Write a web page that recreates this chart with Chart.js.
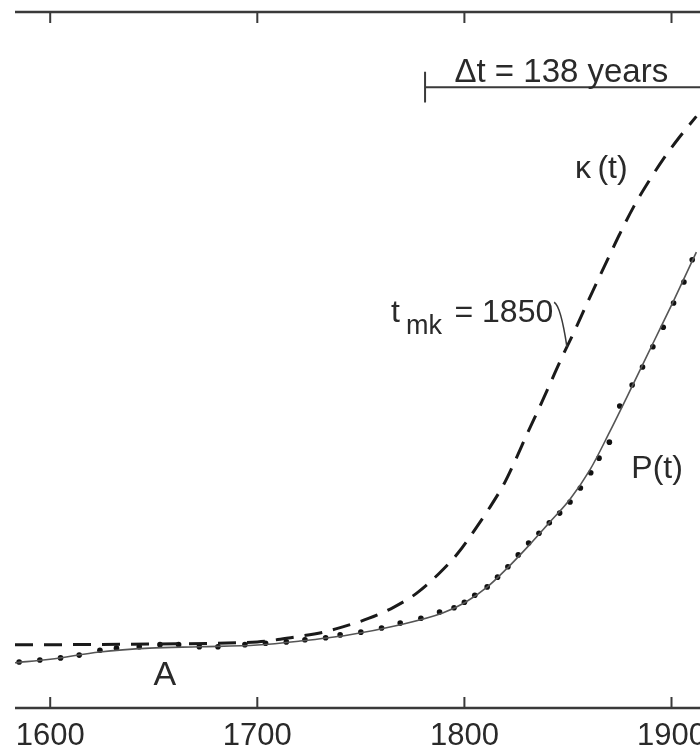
<!DOCTYPE html>
<html>
<head>
<meta charset="utf-8">
<script src="https://cdn.jsdelivr.net/npm/chart.js@4"></script>
<style>
  html, body { margin: 0; padding: 0; background: #fff; overflow: hidden; }
  #wrap { width: 760px; height: 751px; }
</style>
</head>
<body>
<div id="wrap"><canvas id="chart" width="760" height="751"></canvas></div>
<script>
// years on the x axis
const xTicks = [1600, 1700, 1800, 1900];

// kappa(t), dashed
const kappaYears = [1583, 1600, 1650, 1700, 1718, 1732, 1744, 1754, 1766, 1777, 1788, 1797, 1805, 1812, 1819.3, 1824.6, 1830.3, 1836.1, 1841.4, 1847.1, 1852.9, 1858.7, 1864, 1869.7, 1875, 1881.7, 1888.9, 1896.1, 1903.8, 1912];
const kappaValues = [9.1, 9.1, 9.2, 9.5, 10.2, 10.9, 11.9, 12.9, 14.5, 16.5, 19.4, 22.3, 25.6, 28.7, 32.3, 35.6, 39.4, 43.1, 46.6, 50.4, 54.0, 57.8, 61.2, 64.8, 68.1, 72.0, 75.6, 78.9, 82.0, 85.0];

// P(t), solid model curve
const pYears = [1583, 1600, 1624, 1648, 1672, 1700, 1720, 1744, 1768, 1789.5, 1800.5, 1811.1, 1820.7, 1831.3, 1840.9, 1851, 1860.6, 1870.2, 1880.8, 1890.9, 1901, 1912];
const pValues = [6.5, 7.0, 8.05, 8.6, 8.8, 9.05, 9.6, 10.5, 11.9, 13.65, 15.2, 17.4, 20.1, 23.4, 26.6, 30.0, 34.2, 39.7, 46.1, 52.3, 58.5, 65.5];

// observed population, dots
const dotYears = [1585, 1595, 1605, 1614, 1624, 1632, 1643, 1653, 1662, 1672, 1681, 1694, 1704, 1714, 1723, 1733, 1740, 1750, 1760, 1769, 1779, 1788, 1795, 1800, 1805, 1811, 1816, 1821, 1826, 1831, 1836, 1841, 1846, 1851, 1856, 1861, 1865, 1870, 1875, 1881, 1886, 1891, 1896, 1901, 1906, 1910];
const dotValues = [6.6, 6.9, 7.2, 7.6, 8.3, 8.6, 8.8, 9.1, 9.1, 8.8, 8.8, 9.1, 9.3, 9.5, 9.8, 10.1, 10.5, 10.9, 11.5, 12.2, 12.9, 13.8, 14.4, 15.2, 16.2, 17.4, 18.8, 20.3, 22.0, 23.7, 25.1, 26.6, 28.0, 29.6, 31.6, 33.8, 35.9, 38.2, 43.4, 46.4, 49.0, 51.9, 54.7, 58.2, 61.2, 64.4];

const tMk = 1850;
const deltaStart = 1781;
const deltaYears = 138;

const INK = '#2a2a2a';
const FONT = "'Liberation Sans', Arial, sans-serif";

function pairs(xs, ys) {
    return xs.map((x, i) => ({ x: x, y: ys[i] }));
}

const framePlugin = {
    id: 'frame',
    afterDraw(chart) {
        const { ctx, chartArea } = chart;
        const xs = chart.scales.x;
        const ys = chart.scales.y;
        const px = (v) => xs.getPixelForValue(v);
        const py = (v) => ys.getPixelForValue(v);

        ctx.save();
        ctx.strokeStyle = '#3a3a3a';
        ctx.lineWidth = 2.5;
        ctx.beginPath();
        ctx.moveTo(chartArea.left, chartArea.top);
        ctx.lineTo(chartArea.right, chartArea.top);
        ctx.moveTo(chartArea.left, chartArea.bottom);
        ctx.lineTo(chartArea.right, chartArea.bottom);
        ctx.stroke();

        ctx.lineWidth = 2;
        ctx.beginPath();
        xTicks.forEach((t) => {
            const x = px(t);
            ctx.moveTo(x, chartArea.top);
            ctx.lineTo(x, chartArea.top + 11);
            ctx.moveTo(x, chartArea.bottom);
            ctx.lineTo(x, chartArea.bottom - 11);
        });
        ctx.stroke();

        // delta t bracket
        ctx.beginPath();
        ctx.moveTo(px(deltaStart), py(91.4));
        ctx.lineTo(px(deltaStart), py(87.0));
        ctx.moveTo(px(deltaStart), py(89.2));
        ctx.lineTo(px(deltaStart + deltaYears), py(89.2));
        ctx.stroke();

        // pointer from label to kappa curve at t_mk
        ctx.lineWidth = 1.5;
        ctx.beginPath();
        ctx.moveTo(px(1843.3), py(58.3));
        ctx.quadraticCurveTo(px(1846.5), py(57.8), px(tMk - 0.5), py(51.9));
        ctx.stroke();

        ctx.fillStyle = INK;
        ctx.textBaseline = 'alphabetic';
        ctx.textAlign = 'left';
        ctx.font = '33px ' + FONT;
        ctx.fillText('\u0394t = ' + deltaYears + ' years', px(1795.2), py(89.9));
        ctx.font = '32px ' + FONT;
        ctx.fillText('\u03ba\u2009(t)', px(1853.4), py(76.1));
        ctx.fillText('P(t)', px(1880.6), py(33.0));
        ctx.fillText('t', px(1764.6), py(55.5));
        ctx.fillText('= ' + tMk, px(1795.2), py(55.5));
        ctx.font = '27px ' + FONT;
        ctx.fillText('mk', px(1771.8), py(53.7));
        ctx.font = '34px ' + FONT;
        ctx.textAlign = 'center';
        ctx.fillText('A', px(1655.4), py(3.3));
        ctx.restore();
    }
};

new Chart(document.getElementById('chart').getContext('2d'), {
    type: 'line',
    data: {
        datasets: [
            {
                label: 'kappa',
                data: pairs(kappaYears, kappaValues),
                borderColor: '#1a1a1a',
                borderWidth: 3,
                borderDash: [18, 11],
                pointRadius: 0,
                cubicInterpolationMode: 'monotone'
            },
            {
                label: 'P',
                data: pairs(pYears, pValues),
                borderColor: '#555',
                borderWidth: 1.6,
                pointRadius: 0,
                cubicInterpolationMode: 'monotone'
            },
            {
                label: 'data',
                data: pairs(dotYears, dotValues),
                showLine: false,
                pointRadius: 2.8,
                pointBorderWidth: 0,
                pointBackgroundColor: '#111'
            }
        ]
    },
    options: {
        responsive: false,
        animation: false,
        devicePixelRatio: 1,
        layout: { padding: { left: 15, top: 12, right: 0, bottom: 0 } },
        scales: {
            x: {
                type: 'linear',
                min: 1583,
                max: 1940.8,
                afterBuildTicks: (s) => { s.ticks = xTicks.map((v) => ({ value: v })); },
                afterFit: (s) => { s.height = 43; },
                grid: { display: false },
                border: { display: false },
                ticks: {
                    color: INK,
                    padding: 2,
                    maxRotation: 0,
                    autoSkip: false,
                    callback: (v) => String(v),
                    font: { family: FONT, size: 31 }
                }
            },
            y: {
                display: false,
                min: 0,
                max: 100
            }
        },
        plugins: {
            legend: { display: false },
            tooltip: { enabled: false }
        }
    },
    plugins: [framePlugin]
});
</script>
</body>
</html>
